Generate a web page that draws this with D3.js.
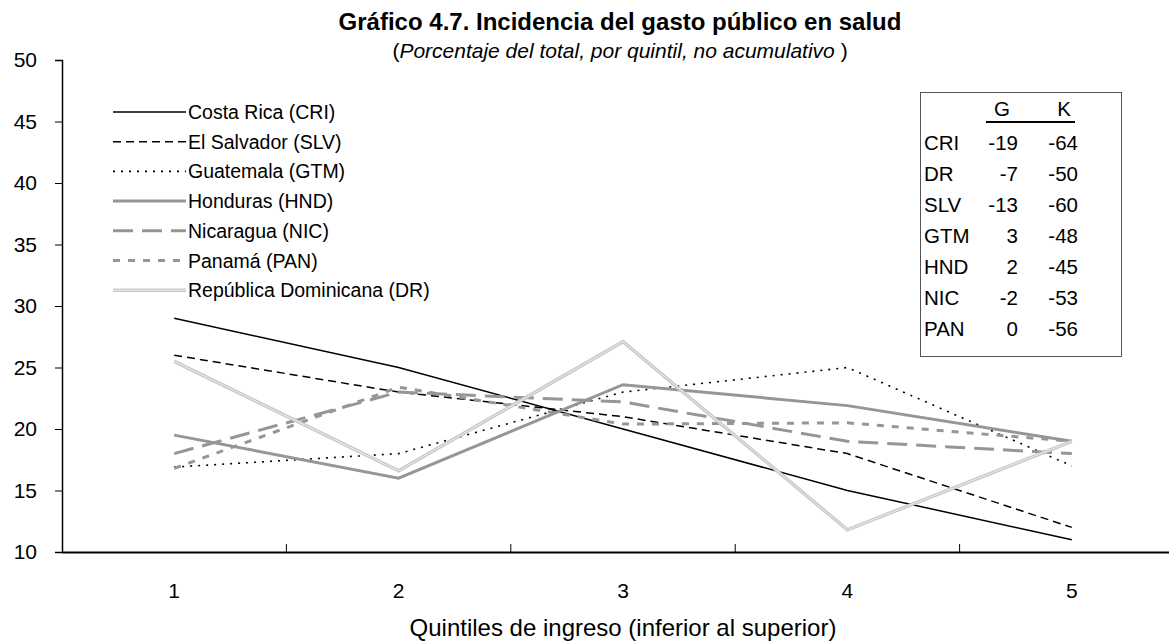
<!DOCTYPE html>
<html>
<head>
<meta charset="utf-8">
<script src="https://cdn.jsdelivr.net/npm/d3@7"></script>
<style>
  body { margin: 0; background: #fff; }
  svg { display: block; font-family: "Liberation Sans", Arial, sans-serif; }
</style>
</head>
<body>
<svg id="chart"></svg>
<script>
// quintiles on the x axis
const quintiles = [1, 2, 3, 4, 5];
const yTicks = [10, 15, 20, 25, 30, 35, 40, 45, 50];

// percentage of total public health spending per quintile
const cri = [29, 25, 20, 15, 11];
const slv = [26, 23, 21, 18, 12];
const gtm = [16.9, 18, 23, 25, 17];
const hnd = [19.5, 16, 23.6, 21.9, 19];
const nic = [18, 23, 22.2, 19, 18];
const pan = [16.8, 23.4, 20.4, 20.5, 19];
const dr  = [25.5, 16.6, 27.1, 11.8, 19];

// concentration coefficients table
const tableRows = ["CRI", "DR", "SLV", "GTM", "HND", "NIC", "PAN"];
const gValues = ["-19", "-7", "-13", "3", "2", "-2", "0"];
const kValues = ["-64", "-50", "-60", "-48", "-45", "-53", "-56"];

const series = [
  { name: "Costa Rica (CRI)", values: cri, color: "#000", width: 1.5, dash: null },
  { name: "El Salvador (SLV)", values: slv, color: "#000", width: 1.5, dash: "8,5" },
  { name: "Guatemala (GTM)", values: gtm, color: "#000", width: 1.6, dash: "2,6" },
  { name: "Honduras (HND)", values: hnd, color: "#969696", width: 3, dash: null },
  { name: "Nicaragua (NIC)", values: nic, color: "#969696", width: 3, dash: "20,9" },
  { name: "Panamá (PAN)", values: pan, color: "#969696", width: 3, dash: "7,8" },
  { name: "República Dominicana (DR)", values: dr, color: "#c8c8c8", width: 3.5, dash: null, inner: "#ececec" }
];

const width = 1169, height = 642;
const svg = d3.select("#chart").attr("width", width).attr("height", height);

const x = d3.scaleBand().domain(quintiles).range([62, 1184]);
const y = d3.scaleLinear().domain([10, 50]).range([552, 60]);

// title
svg.append("text")
  .attr("x", 620).attr("y", 30)
  .attr("text-anchor", "middle")
  .attr("font-weight", "bold")
  .attr("font-size", 24)
  .text("Gráfico 4.7. Incidencia del gasto público en salud");

const sub = svg.append("text")
  .attr("x", 620).attr("y", 58)
  .attr("text-anchor", "middle")
  .attr("font-size", 21);
sub.append("tspan").text("(");
sub.append("tspan").attr("font-style", "italic").text("Porcentaje del total, por quintil, no acumulativo");
sub.append("tspan").text(" )");

// y axis
const yAxis = svg.append("g")
  .attr("transform", "translate(62,0)")
  .call(d3.axisLeft(y).tickValues(yTicks).tickSize(7).tickPadding(18));
yAxis.selectAll("text").attr("font-size", 21).attr("fill", "#000").attr("font-family", "Liberation Sans, Arial");
yAxis.select(".domain").attr("stroke-width", 1.5);

// x axis: ticks between categories, pointing up
const xAxis = svg.append("g")
  .attr("transform", "translate(0,552)")
  .call(d3.axisBottom(x).tickSize(0).tickPadding(31));
xAxis.select(".domain").attr("stroke-width", 2);
xAxis.selectAll("text").attr("font-size", 21).attr("fill", "#000").attr("font-family", "Liberation Sans, Arial");
xAxis.selectAll(".sep")
  .data(quintiles.slice(1))
  .join("line")
  .attr("class", "sep")
  .attr("x1", d => x(d)).attr("x2", d => x(d))
  .attr("y1", 0).attr("y2", -8)
  .attr("stroke", "#000");

svg.append("text")
  .attr("x", 623).attr("y", 636)
  .attr("text-anchor", "middle")
  .attr("font-size", 24)
  .text("Quintiles de ingreso (inferior al superior)");

// lines
const line = d3.line()
  .x((d, i) => x(quintiles[i]) + x.bandwidth() / 2)
  .y(d => y(d));

series.forEach(s => {
  const p = svg.append("path")
    .attr("d", line(s.values))
    .attr("fill", "none")
    .attr("stroke", s.color)
    .attr("stroke-width", s.width)
    .attr("stroke-linejoin", "miter");
  if (s.dash) p.attr("stroke-dasharray", s.dash);
  if (s.inner) {
    svg.append("path")
      .attr("d", line(s.values))
      .attr("fill", "none")
      .attr("stroke", s.inner)
      .attr("stroke-width", 1);
  }
});

// legend
const legend = svg.append("g");
series.forEach((s, i) => {
  const ly = 112 + i * 29.7;
  const l = legend.append("line")
    .attr("x1", 113).attr("x2", 186)
    .attr("y1", ly).attr("y2", ly)
    .attr("stroke", s.color)
    .attr("stroke-width", s.width);
  if (s.dash) l.attr("stroke-dasharray", s.dash);
  if (s.inner) {
    legend.append("line")
      .attr("x1", 113).attr("x2", 186)
      .attr("y1", ly).attr("y2", ly)
      .attr("stroke", s.inner).attr("stroke-width", 1);
  }
  legend.append("text")
    .attr("x", 188).attr("y", ly + 7)
    .attr("font-size", 19.5)
    .text(s.name);
});

// table of coefficients
const tbl = svg.append("g");
tbl.append("rect")
  .attr("x", 920.5).attr("y", 92.5)
  .attr("width", 201).attr("height", 264)
  .attr("fill", "#fff").attr("stroke", "#555");
tbl.append("text").attr("x", 1002).attr("y", 116).attr("text-anchor", "middle").attr("font-size", 20.5).text("G");
tbl.append("text").attr("x", 1064).attr("y", 116).attr("text-anchor", "middle").attr("font-size", 20.5).text("K");
tbl.append("line").attr("x1", 986).attr("x2", 1075).attr("y1", 122).attr("y2", 122).attr("stroke", "#000").attr("stroke-width", 2);
tableRows.forEach((r, i) => {
  const ty = 150 + i * 31;
  tbl.append("text").attr("x", 924).attr("y", ty).attr("font-size", 20.5).text(r);
  tbl.append("text").attr("x", 1018).attr("y", ty).attr("text-anchor", "end").attr("font-size", 20.5).text(gValues[i]);
  tbl.append("text").attr("x", 1078).attr("y", ty).attr("text-anchor", "end").attr("font-size", 20.5).text(kValues[i]);
});
</script>
</body>
</html>
